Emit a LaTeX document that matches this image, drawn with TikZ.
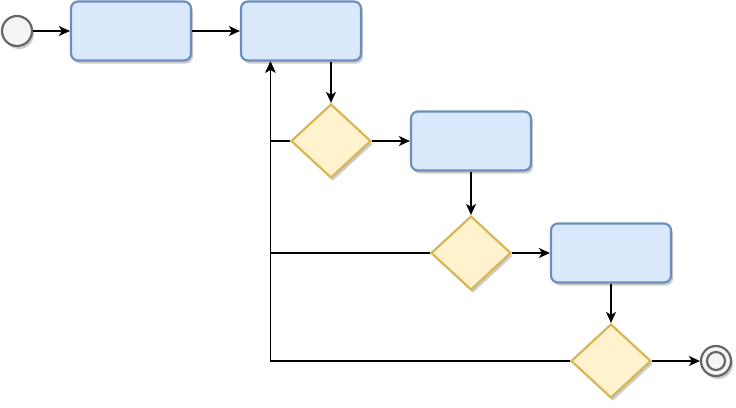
\documentclass[tikz,border=0pt]{standalone}
\usetikzlibrary{arrows.meta,shapes.geometric,shadows,calc}
\definecolor{taskfill}{HTML}{DAE8FC}
\definecolor{taskline}{HTML}{6C8EBF}
\definecolor{gatefill}{HTML}{FFF2CC}
\definecolor{gateline}{HTML}{D6B656}
\definecolor{evfill}{HTML}{F5F5F5}
\definecolor{evline}{HTML}{666666}
\definecolor{shade}{HTML}{CCCCCC}

\begin{document}
\begin{tikzpicture}[x=1pt,y=-1pt,
  shade/.style={drop shadow={shadow xshift=2pt,shadow yshift=-3pt,fill=shade,opacity=1}},
  task/.style={draw=taskline,fill=taskfill,line width=2.2pt,rounded corners=7pt,minimum width=120pt,minimum height=59pt,inner sep=0pt,shade},
  gate/.style={diamond,draw=gateline,fill=gatefill,line width=2.2pt,minimum width=80pt,minimum height=74pt,inner sep=0pt,shade},
  event/.style={circle,draw=evline,fill=evfill,line width=2.2pt,minimum size=30pt,inner sep=0pt,shade},
  inring/.style={circle,draw=evline,fill=evfill,line width=2.2pt,minimum size=18pt,inner sep=0pt},
  flow/.style={draw=black,line width=1.5pt,-{Stealth[length=11pt,width=10pt,inset=3pt]}}]
\useasboundingbox (0,0) rectangle (736,407);
% events
\node[event] (start) at (17,31) {};
\node[event] (stop) at (716,361) {};
\node[inring] (stopin) at (stop) {};
% tasks
\node[task] (t1) at (131,31) {};
\node[task] (t2) at (301,31) {};
\node[task] (t3) at (471,141) {};
\node[task] (t4) at (611,253) {};
% gateways
\node[gate] (g1) at (331,141) {};
\node[gate] (g2) at (471,253) {};
\node[gate] (g3) at (611,361) {};
\coordinate (back) at ($(t2.south west)!0.25!(t2.south east)$);
% flows
\draw[flow] (start) -- (t1);
\draw[flow] (t1) -- (t2);
\draw[flow] (t2.south -| g1.north) -- (g1.north);
\draw[flow] (g1) -- (t3);
\draw[flow] (t3) -- (g2);
\draw[flow] (g2) -- (t4);
\draw[flow] (t4) -- (g3);
\draw[flow] (g3) -- (stop);
\draw[flow] (g1.west) -| (back);
\draw[flow] (g2.west) -| (back);
\draw[flow] (g3.west) -| (back);
\end{tikzpicture}
\end{document}
